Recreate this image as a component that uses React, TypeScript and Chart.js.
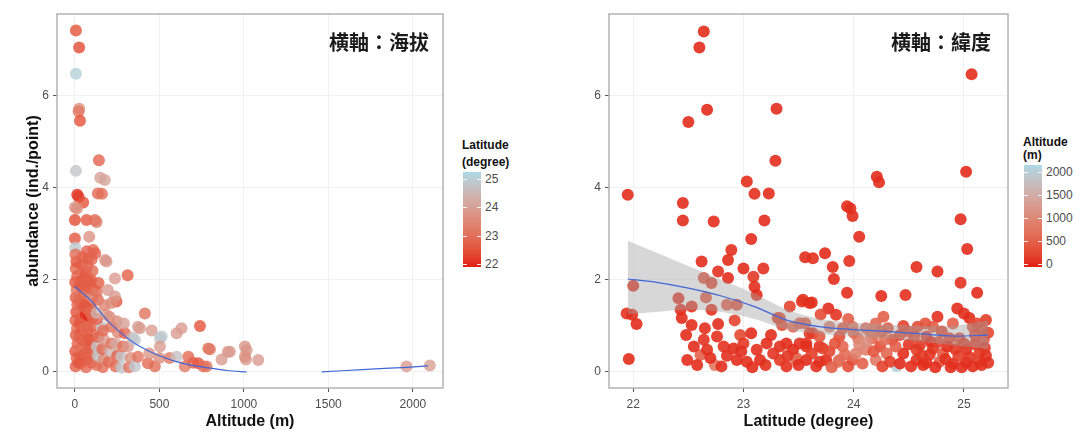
import React, { useEffect, useRef } from "react";
import { Chart, registerables } from "chart.js";
Chart.register(...registerables);

// ---------- data ----------
const abundanceTicks = [0, 2, 4, 6];
const altitudeTicks = [0, 500, 1000, 1500, 2000];
const latitudeTicks = [22, 23, 24, 25];
const latitudeLegendBreaks = [25, 24, 23, 22];
const altitudeLegendBreaks = [2000, 1500, 1000, 500, 0];
const latitudeColorRange = [21.9, 25.25];
const altitudeColorRange = [-60, 2150];

// left panel: [altitude (m), abundance, latitude]
const altitudePanelPoints: [number, number, number][] = [
  [6, 7.42, 22.5], [25, 7.05, 22.4], [6, 6.48, 25.05], [25, 5.72, 23.6], [22, 5.66, 23.2], [30, 5.46, 22.5],
  [6, 4.37, 24.8], [142, 4.6, 22.8], [150, 4.22, 24.0], [177, 4.17, 24.1], [14, 3.85, 22.0], [22, 3.8, 22.2],
  [136, 3.88, 22.9], [160, 3.87, 23.0], [49, 3.68, 22.5], [0, 3.58, 23.9], [12, 3.55, 23.6], [69, 3.3, 22.6],
  [118, 3.3, 22.9], [128, 3.26, 23.2], [0, 3.3, 22.4], [85, 2.94, 23.7], [0, 2.9, 22.6], [2, 2.7, 24.9],
  [187, 2.4, 23.9], [108, 2.65, 22.9], [120, 2.58, 22.8], [237, 2.03, 23.9], [312, 2.1, 22.7], [246, 1.53, 22.6],
  [4, 0.12, 22.7], [10, 0.3, 22.9], [2, 0.45, 22.6], [15, 0.62, 22.8], [5, 0.8, 22.7], [12, 0.95, 23.0],
  [3, 1.12, 22.7], [8, 1.3, 22.5], [14, 1.46, 22.9], [4, 1.62, 22.7], [10, 1.78, 23.1], [2, 1.95, 22.6],
  [13, 2.08, 22.8], [5, 2.25, 22.8], [9, 2.4, 22.5], [3, 2.55, 23.0],
  [38, 0.18, 22.8], [45, 0.36, 22.6], [35, 0.52, 23.0], [48, 0.68, 22.7], [40, 0.86, 22.5], [52, 1.0, 22.8],
  [36, 1.18, 22.7], [47, 1.34, 22.9], [42, 1.5, 22.6], [55, 1.66, 22.8], [38, 1.84, 22.7], [46, 2.02, 22.5],
  [50, 2.18, 23.0], [40, 2.33, 22.7], [44, 2.5, 22.8],
  [66, 0.1, 22.9], [74, 0.28, 22.7], [70, 0.46, 23.3], [78, 0.6, 22.8], [68, 0.77, 22.8], [75, 0.92, 22.6],
  [72, 1.08, 23.0], [80, 1.22, 22.1], [64, 1.24, 22.0], [70, 1.38, 22.8], [76, 1.54, 22.7], [68, 1.7, 23.1],
  [74, 1.86, 22.7], [79, 2.0, 22.8], [66, 2.14, 22.6], [72, 2.3, 22.9], [77, 2.46, 22.7], [70, 2.62, 22.8],
  [98, 0.2, 22.8], [104, 0.42, 23.5], [95, 0.58, 22.7], [108, 0.8, 22.9], [100, 1.0, 22.7], [106, 1.18, 22.8],
  [94, 1.4, 22.6], [102, 1.6, 23.8], [110, 1.78, 22.8], [96, 2.0, 22.7], [104, 2.2, 22.9], [99, 2.45, 22.8],
  [20, 0.2, 22.6], [25, 0.75, 22.8], [28, 1.05, 22.6], [22, 1.55, 22.9], [30, 1.9, 22.7], [58, 0.4, 22.7],
  [60, 0.95, 22.9], [58, 1.45, 22.6], [86, 0.35, 22.8], [88, 0.7, 22.6], [90, 1.3, 22.9], [86, 1.95, 22.7],
  [128, 0.15, 23.0], [136, 0.35, 24.9], [130, 0.55, 24.8], [138, 0.76, 22.9], [158, 0.98, 24.9], [132, 1.15, 22.8],
  [128, 1.28, 24.4], [136, 1.57, 22.9], [130, 1.75, 23.1], [140, 1.93, 22.7],
  [165, 0.1, 23.0], [170, 0.28, 23.6], [162, 0.5, 22.8], [172, 0.7, 23.8], [166, 0.9, 22.9], [187, 1.24, 23.9],
  [175, 1.45, 23.4], [195, 1.78, 23.9], [178, 2.43, 23.8],
  [200, 0.22, 22.9], [210, 0.45, 24.5], [217, 0.62, 23.1], [217, 0.98, 23.0], [205, 1.2, 23.7], [237, 1.64, 23.9],
  [215, 1.5, 23.6], [240, 0.12, 22.9], [250, 0.35, 22.8], [245, 0.6, 24.2], [255, 0.85, 23.4], [248, 1.1, 23.6],
  [276, 0.09, 24.9], [276, 0.33, 24.8], [285, 0.55, 23.0], [296, 0.84, 22.8], [290, 1.05, 24.0],
  [314, 0.55, 23.9], [320, 0.1, 23.1], [330, 0.3, 23.6], [340, 0.75, 24.6], [355, 0.7, 24.9], [355, 0.12, 24.9],
  [373, 0.33, 23.1], [373, 0.98, 24.0], [385, 0.95, 23.9], [414, 1.27, 23.1], [432, 0.19, 22.9], [440, 0.4, 23.8],
  [454, 0.9, 23.9], [473, 0.12, 23.0], [500, 0.3, 23.6], [503, 0.73, 24.8], [513, 0.77, 24.9], [503, 0.55, 23.9],
  [560, 0.3, 23.2], [602, 0.84, 23.9], [602, 0.33, 24.7], [631, 0.95, 23.9], [650, 0.12, 23.2], [671, 0.33, 22.9],
  [700, 0.2, 22.8], [730, 0.19, 22.6], [740, 1.0, 22.5], [760, 0.12, 22.9], [779, 0.12, 23.1], [789, 0.51, 23.1],
  [799, 0.49, 23.2], [868, 0.27, 23.9], [905, 0.44, 23.8], [917, 0.44, 23.9], [1006, 0.55, 23.8], [1012, 0.27, 23.9],
  [1016, 0.47, 23.8], [1006, 0.33, 23.7], [1085, 0.26, 23.9], [1962, 0.12, 23.9], [2100, 0.14, 24.0],
];

// left smoother (two pieces, gap where it leaves the range)
const altitudeSmoothLow: [number, number][] = [
  [0, 1.85], [89, 1.57], [207, 1.06], [385, 0.55], [621, 0.2], [900, 0.03], [1016, 0.0],
];
const altitudeSmoothHigh: [number, number][] = [
  [1460, 0.0], [1700, 0.05], [1964, 0.1], [2090, 0.13],
];

// right panel: [latitude, abundance, altitude (m)]
const latitudePanelPoints: [number, number, number][] = [
  [21.95, 3.85, 20], [22.0, 1.87, 40], [21.94, 1.27, 60], [21.99, 1.24, 30], [22.03, 1.04, 10], [21.96, 0.28, 20],
  [22.45, 3.67, 10], [22.45, 3.29, 30], [22.5, 5.43, 20], [22.6, 7.05, 10], [22.64, 7.4, 20], [22.67, 5.7, 10],
  [22.73, 3.27, 30], [23.3, 5.72, 10], [23.29, 4.59, 30], [23.03, 4.14, 20], [23.1, 3.87, 40], [23.23, 3.88, 20],
  [23.19, 3.29, 10], [23.07, 2.89, 30], [23.94, 3.6, 20], [23.97, 3.55, 40], [23.99, 3.39, 20], [24.05, 2.94, 30],
  [24.21, 4.24, 10], [24.23, 4.12, 20], [25.07, 6.47, 20], [25.02, 4.35, 10], [24.97, 3.32, 30], [25.03, 2.67, 20],
  [24.97, 1.94, 40], [25.12, 1.72, 10], [24.76, 2.18, 30], [24.57, 2.28, 20], [24.47, 1.67, 40], [24.25, 1.65, 30],
  [23.94, 1.72, 20], [23.96, 2.41, 40], [23.81, 2.28, 20], [23.82, 2.02, 30], [23.74, 2.58, 10], [23.56, 2.49, 20],
  [23.63, 2.47, 40],
  [22.89, 2.65, 40], [22.86, 2.43, 20], [22.62, 2.4, 30], [22.77, 2.18, 60], [23.0, 2.25, 20], [23.18, 2.25, 40],
  [23.09, 2.07, 100], [22.86, 2.04, 30], [22.64, 2.04, 350], [22.71, 1.93, 200], [23.1, 1.85, 50], [23.12, 1.67, 30],
  [22.41, 1.6, 80], [22.43, 1.35, 40], [22.53, 1.42, 60], [22.44, 1.17, 30], [22.66, 1.62, 400], [22.71, 1.35, 50],
  [22.85, 1.46, 450], [22.94, 1.46, 300], [22.53, 1.02, 20], [22.65, 0.95, 40], [22.77, 1.04, 30], [22.92, 1.12, 200],
  [22.48, 0.8, 20], [22.64, 0.7, 60], [22.76, 0.77, 40], [22.97, 0.8, 250], [23.07, 0.84, 30], [22.49, 0.26, 30],
  [22.61, 0.37, 500], [22.74, 0.15, 800], [22.67, 0.48, 40], [22.82, 0.55, 60], [22.91, 0.51, 30], [23.0, 0.62, 100],
  [23.12, 0.48, 40], [23.21, 0.62, 20], [23.27, 0.4, 60], [22.94, 0.26, 30], [23.03, 0.22, 50], [23.15, 0.26, 20],
  [23.33, 0.26, 100], [23.39, 0.62, 30], [23.48, 0.3, 600], [23.33, 1.17, 400], [23.35, 1.02, 300], [23.42, 1.42, 200],
  [23.54, 1.57, 60], [23.51, 1.06, 550], [23.51, 0.62, 40],
  [22.55, 0.55, 30], [22.7, 0.3, 20], [22.85, 0.35, 40], [22.98, 0.45, 30], [23.08, 0.1, 20], [23.2, 0.15, 40],
  [23.25, 0.8, 30], [22.58, 0.15, 20], [22.8, 0.12, 40],
  [23.31, 1.17, 250], [23.53, 1.53, 100], [23.6, 1.5, 40], [23.45, 0.98, 600], [23.56, 1.06, 500], [23.33, 0.55, 60],
  [23.45, 0.48, 30], [23.57, 0.62, 80], [23.48, 0.26, 650], [23.63, 0.84, 300], [23.69, 0.55, 50], [23.75, 0.26, 20],
  [23.87, 0.26, 700], [23.39, 0.12, 40],
  [23.62, 1.51, 50], [23.77, 1.38, 30], [23.84, 1.24, 60], [24.27, 1.2, 500], [24.76, 1.2, 50], [24.94, 1.38, 30],
  [25.0, 1.27, 40], [25.05, 1.17, 20], [25.2, 1.13, 150], [23.78, 0.98, 900], [23.99, 0.98, 800], [24.11, 0.95, 700],
  [24.31, 0.95, 400], [24.58, 0.98, 300], [24.72, 0.98, 450], [24.87, 0.73, 200], [25.08, 0.98, 350], [25.17, 0.91, 250],
  [23.6, 0.84, 100], [23.69, 0.77, 400], [23.87, 0.77, 300], [24.04, 0.73, 800], [24.17, 0.73, 600], [24.42, 0.8, 200],
  [24.66, 0.77, 100], [24.96, 0.73, 300],
  [23.57, 0.55, 40], [23.72, 0.51, 200], [23.9, 0.55, 600], [24.11, 0.48, 900], [24.24, 0.55, 300], [24.45, 0.4, 20],
  [24.57, 0.48, 150], [24.72, 0.51, 100], [24.81, 0.4, 400], [25.02, 0.48, 60], [25.14, 0.4, 100],
  [23.57, 0.26, 30], [23.69, 0.22, 60], [23.86, 0.22, 700], [23.99, 0.26, 400], [24.2, 0.26, 800], [24.39, 0.13, 2050],
  [24.57, 0.26, 60], [24.66, 0.2, 30], [24.78, 0.22, 500], [24.9, 0.18, 40], [25.02, 0.2, 20], [25.14, 0.22, 200],
  [25.22, 0.2, 60],
  [24.05, 0.6, 1000], [24.15, 0.85, 750], [24.3, 0.4, 600], [24.35, 0.7, 250], [24.5, 0.6, 80], [24.62, 0.35, 120],
  [24.7, 0.65, 50], [24.85, 0.55, 30], [24.95, 0.35, 150], [25.1, 0.6, 90], [25.18, 0.7, 300], [25.2, 0.35, 40],
  [24.9, 1.05, 500], [24.65, 1.05, 350], [24.45, 1.0, 200], [24.2, 1.05, 600], [23.95, 1.15, 500], [23.7, 1.25, 300],
  [25.12, 1.05, 250],
  [23.4, 0.35, 80], [23.5, 0.15, 30], [23.62, 0.4, 150], [23.66, 0.12, 40], [23.78, 0.45, 250], [23.8, 0.1, 500],
  [23.83, 0.62, 350], [23.92, 0.38, 650], [23.95, 0.12, 300], [24.02, 0.4, 900], [24.08, 0.18, 500], [24.12, 0.65, 1100],
  [24.18, 0.45, 400], [24.26, 0.12, 200], [24.28, 0.7, 700], [24.33, 0.22, 150], [24.38, 0.55, 500], [24.42, 0.18, 30],
  [24.52, 0.12, 40], [24.55, 0.78, 250], [24.6, 0.58, 100], [24.63, 0.15, 20], [24.69, 0.38, 80], [24.74, 0.1, 30],
  [24.77, 0.65, 200], [24.83, 0.28, 60], [24.88, 0.1, 20], [24.92, 0.5, 100], [24.98, 0.1, 30], [25.0, 0.62, 150],
  [25.05, 0.32, 80], [25.08, 0.12, 20], [25.1, 0.8, 200], [25.16, 0.15, 40], [25.19, 0.52, 100], [25.22, 0.85, 250],
  [24.0, 0.85, 600], [24.25, 0.88, 450], [24.5, 0.88, 300], [24.8, 0.88, 200], [23.9, 0.95, 400],
];

const latitudeSmoothX = [21.95, 22.2, 22.5, 22.8, 23.1, 23.4, 23.7, 24.0, 24.3, 24.6, 24.9, 25.22];
const latitudeSmoothY = [2.02, 1.95, 1.82, 1.65, 1.42, 1.12, 0.98, 0.92, 0.88, 0.83, 0.78, 0.8];
const latitudeBandUpper = [2.85, 2.6, 2.3, 2.0, 1.7, 1.35, 1.15, 1.07, 1.03, 1.0, 1.0, 1.12];
const latitudeBandLower = [1.25, 1.3, 1.35, 1.3, 1.15, 0.92, 0.82, 0.78, 0.73, 0.66, 0.58, 0.5];

// ---------- colour ramp (Lab interpolation red -> lightblue) ----------
const LOW = [226, 30, 20];
const HIGH = [173, 216, 230];
function toLin(c: number) { c /= 255; return c <= 0.04045 ? c / 12.92 : Math.pow((c + 0.055) / 1.055, 2.4); }
function fromLin(c: number) {
  const v = c <= 0.0031308 ? 12.92 * c : 1.055 * Math.pow(Math.max(c, 0), 1 / 2.4) - 0.055;
  return Math.round(Math.max(0, Math.min(1, v)) * 255);
}
function rgbToLab(rgb: number[]) {
  const R = toLin(rgb[0]), G = toLin(rgb[1]), B = toLin(rgb[2]);
  const X = (0.4124 * R + 0.3576 * G + 0.1805 * B) / 0.95047;
  const Y = 0.2126 * R + 0.7152 * G + 0.0722 * B;
  const Z = (0.0193 * R + 0.1192 * G + 0.9505 * B) / 1.08883;
  const f = (t: number) => (t > 0.008856 ? Math.cbrt(t) : 7.787 * t + 16 / 116);
  const fx = f(X), fy = f(Y), fz = f(Z);
  return [116 * fy - 16, 500 * (fx - fy), 200 * (fy - fz)];
}
function labToRgb(lab: number[]) {
  const fy = (lab[0] + 16) / 116, fx = fy + lab[1] / 500, fz = fy - lab[2] / 200;
  const inv = (t: number) => (t * t * t > 0.008856 ? t * t * t : (t - 16 / 116) / 7.787);
  const X = inv(fx) * 0.95047, Y = inv(fy), Z = inv(fz) * 1.08883;
  const R = 3.2406 * X - 1.5372 * Y - 0.4986 * Z;
  const G = -0.9689 * X + 1.8758 * Y + 0.0415 * Z;
  const B = 0.0557 * X - 0.204 * Y + 1.057 * Z;
  return [fromLin(R), fromLin(G), fromLin(B)];
}
const LOW_LAB = rgbToLab(LOW);
const HIGH_LAB = rgbToLab(HIGH);
function ramp(t: number, alpha = 1) {
  const u = Math.max(0, Math.min(1, t));
  const lab = LOW_LAB.map((v, i) => v + (HIGH_LAB[i] - v) * u);
  const c = labToRgb(lab);
  return `rgba(${c[0]},${c[1]},${c[2]},${alpha})`;
}
function norm(v: number, r: number[]) { return (v - r[0]) / (r[1] - r[0]); }
function gradientCss() {
  const stops: string[] = [];
  for (let i = 0; i <= 10; i++) stops.push(`${ramp(i / 10)} ${i * 10}%`);
  return `linear-gradient(to top, ${stops.join(", ")})`;
}

// ---------- chart helpers ----------
const FONT = "'Liberation Sans', Arial, Helvetica, sans-serif";
const frame = {
  id: "frame",
  afterDraw(chart: any) {
    const { ctx, chartArea: a } = chart;
    ctx.save();
    ctx.strokeStyle = "#b3b3b3";
    ctx.lineWidth = 1.5;
    ctx.strokeRect(a.left, a.top, a.right - a.left, a.bottom - a.top);
    ctx.restore();
  },
};

function axisCommon(ticks: number[]) {
  return {
    type: "linear" as const,
    afterBuildTicks: (s: any) => { s.ticks = ticks.map((v) => ({ value: v })); },
    ticks: { color: "#4d4d4d", font: { family: FONT, size: 12 }, callback: (v: any) => String(v) },
    grid: { color: "#f1f1f1", tickColor: "#555", tickLength: 4, lineWidth: 1 },
    border: { display: false },
  };
}

function buildOptions(xMin: number, xMax: number, xTicks: number[], xTitle: string, yAxisWidth: number, yTitle: string | null, rightPad: number) {
  const x: any = axisCommon(xTicks);
  x.min = xMin; x.max = xMax;
  x.ticks.padding = 5;
  x.afterFit = (s: any) => { s.height = 45; };
  x.title = { display: true, text: xTitle, color: "#111", font: { family: FONT, size: 16, weight: "bold" }, padding: { top: 0, bottom: 2 } };
  const y: any = axisCommon(abundanceTicks);
  y.min = -0.35; y.max = 7.78;
  y.ticks.padding = 4;
  y.afterFit = (s: any) => { s.width = yAxisWidth; };
  if (yTitle) y.title = { display: true, text: yTitle, color: "#111", font: { family: FONT, size: 16, weight: "bold" }, padding: { top: 24, bottom: 0 } };
  return {
    responsive: false,
    animation: false as const,
    layout: { padding: { top: 14, right: rightPad, bottom: 0, left: 0 } },
    plugins: { legend: { display: false }, tooltip: { enabled: false } },
    scales: { x, y },
  };
}

function pointsDataset(pts: [number, number, number][], range: number[], alpha: number) {
  return {
    type: "scatter" as const,
    data: pts.map((p) => ({ x: p[0], y: p[1] })),
    backgroundColor: pts.map((p) => ramp(norm(p[2], range), alpha)),
    pointRadius: 6,
    pointBorderWidth: 0,
    order: 5,
  };
}

function lineDataset(pts: { x: number; y: number }[]) {
  return {
    type: "line" as const,
    data: pts,
    borderColor: "#3f67d8",
    borderWidth: 1.2,
    pointRadius: 0,
    fill: false,
    tension: 0.3,
    order: 0,
  };
}

export default function App() {
  const leftRef = useRef<HTMLCanvasElement>(null);
  const rightRef = useRef<HTMLCanvasElement>(null);

  useEffect(() => {
    const left = new Chart(leftRef.current as HTMLCanvasElement, {
      type: "scatter",
      data: {
        datasets: [
          lineDataset(altitudeSmoothLow.map((p) => ({ x: p[0], y: p[1] }))) as any,
          lineDataset(altitudeSmoothHigh.map((p) => ({ x: p[0], y: p[1] }))) as any,
          pointsDataset(altitudePanelPoints, latitudeColorRange, 0.8) as any,
        ],
      },
      options: buildOptions(-106, 2178, altitudeTicks, "Altitude (m)", 57, "abundance (ind./point)", 7) as any,
      plugins: [frame],
    });
    const right = new Chart(rightRef.current as HTMLCanvasElement, {
      type: "scatter",
      data: {
        datasets: [
          lineDataset(latitudeSmoothX.map((x, i) => ({ x, y: latitudeSmoothY[i] }))) as any,
          {
            type: "line",
            data: latitudeSmoothX.map((x, i) => ({ x, y: latitudeBandUpper[i] })),
            borderWidth: 0,
            borderColor: "rgba(0,0,0,0)",
            pointRadius: 0,
            tension: 0.3,
            fill: "+1",
            backgroundColor: "rgba(160,160,160,0.42)",
            order: 1,
          } as any,
          {
            type: "line",
            data: latitudeSmoothX.map((x, i) => ({ x, y: latitudeBandLower[i] })),
            borderWidth: 0,
            borderColor: "rgba(0,0,0,0)",
            pointRadius: 0,
            tension: 0.3,
            fill: false,
            order: 2,
          } as any,
          pointsDataset(latitudePanelPoints, altitudeColorRange, 0.9) as any,
        ],
      },
      options: buildOptions(21.78, 25.4, latitudeTicks, "Latitude (degree)", 49, null, 12) as any,
      plugins: [frame],
    });
    return () => { left.destroy(); right.destroy(); };
  }, []);

  const grad = gradientCss();
  const labelStyle = (top: number, left: number): React.CSSProperties => ({
    position: "absolute", left, top: top - 8, height: 16, lineHeight: "16px",
    fontFamily: FONT, fontSize: 12, color: "#4d4d4d", whiteSpace: "nowrap",
  });
  const latY = (v: number) => 267 - norm(v, latitudeColorRange) * 95;
  const altY = (v: number) => 267 - norm(v, altitudeColorRange) * 102;
  const annot: React.CSSProperties = {
    position: "absolute", top: 29, height: 26, lineHeight: "26px", fontSize: 20, fontWeight: 700,
    fontFamily: "'Noto Sans CJK TC', 'Noto Sans CJK SC', sans-serif", color: "#1a1a1a", textAlign: "right", whiteSpace: "nowrap",
  };

  return (
    <div style={{ position: "fixed", left: 0, top: 0, width: 1081, height: 433, background: "#fff", overflow: "hidden" }}>
      <canvas ref={leftRef} width={450} height={433} style={{ position: "absolute", left: 0, top: 0, width: 450, height: 433 }} />
      <canvas ref={rightRef} width={460} height={433} style={{ position: "absolute", left: 560, top: 0, width: 460, height: 433 }} />
      <div style={{ ...annot, left: 300, width: 129 }}>横軸：海拔</div>
      <div style={{ ...annot, left: 860, width: 131 }}>横軸：緯度</div>

      <div style={{ position: "absolute", left: 462, top: 137, fontFamily: FONT, fontSize: 12, fontWeight: 700, lineHeight: "17px", color: "#111" }}>
        Latitude<br />(degree)
      </div>
      <div style={{ position: "absolute", left: 463, top: 172, width: 18, height: 95, background: grad }} />
      {latitudeLegendBreaks.map((v) => (
        <React.Fragment key={"l" + v}>
          <div style={{ position: "absolute", left: 463, top: latY(v), width: 4, height: 1, background: "rgba(255,255,255,0.9)" }} />
          <div style={{ position: "absolute", left: 477, top: latY(v), width: 4, height: 1, background: "rgba(255,255,255,0.9)" }} />
          <div style={labelStyle(latY(v), 485)}>{v}</div>
        </React.Fragment>
      ))}

      <div style={{ position: "absolute", left: 1023, top: 136, fontFamily: FONT, fontSize: 12, fontWeight: 700, lineHeight: "13px", color: "#111", whiteSpace: "nowrap" }}>
        Altitude<br />(m)
      </div>
      <div style={{ position: "absolute", left: 1024, top: 165, width: 18, height: 102, background: grad }} />
      {altitudeLegendBreaks.map((v) => (
        <React.Fragment key={"a" + v}>
          <div style={{ position: "absolute", left: 1024, top: altY(v), width: 4, height: 1, background: "rgba(255,255,255,0.9)" }} />
          <div style={{ position: "absolute", left: 1038, top: altY(v), width: 4, height: 1, background: "rgba(255,255,255,0.9)" }} />
          <div style={labelStyle(altY(v), 1046)}>{v}</div>
        </React.Fragment>
      ))}
    </div>
  );
}
